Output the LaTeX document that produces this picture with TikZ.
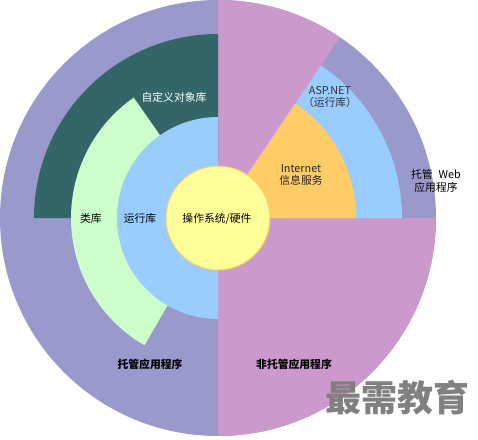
\documentclass[tikz,border=0pt]{standalone}
\usepackage{fontspec}
\newfontfamily\cjk{Noto Sans CJK SC}
\definecolor{lavender}{HTML}{9999CC}
\definecolor{orchid}{HTML}{CC99CC}
\definecolor{darkteal}{HTML}{336666}
\definecolor{palegreen}{HTML}{CCFFCC}
\definecolor{skyblue}{HTML}{99CCFF}
\definecolor{apricot}{HTML}{FFCC66}
\definecolor{paleyellow}{HTML}{FFFF99}
\tikzset{boldlabel/.style={font=\cjk\bfseries\fontsize{10.8}{12}\selectfont}}

\begin{document}
\begin{tikzpicture}[x=1pt,y=1pt,font=\cjk\fontsize{10.8}{12.5}\selectfont]
\useasboundingbox (-218,-221) rectangle (260,218);
\fill[lavender] (0,0) circle (218);
\fill[orchid] (0,0) -- (-90:218) arc[start angle=-90,end angle=0,radius=218] -- cycle;
\fill[orchid] (0,0) -- (56:218) arc[start angle=56,end angle=90,radius=218] -- cycle;
\fill[darkteal] (0,0) -- (90:184) arc[start angle=90,end angle=180,radius=184] -- cycle;
\fill[palegreen] (0,0) -- (125:147) arc[start angle=125,end angle=240,radius=147] -- cycle;
\fill[skyblue] (0,0) -- (90:101) arc[start angle=90,end angle=270,radius=101] -- cycle;
\fill[skyblue] (0,0) -- (0:184) arc[start angle=0,end angle=56,radius=184] -- cycle;
\fill[apricot] (0,0) -- (0:138) arc[start angle=0,end angle=56,radius=138] -- cycle;
\draw[apricot,fill=paleyellow,line width=1pt] (0,0) circle (52);

\node (objlib) at (-44,121) [text=white] {自定义对象库};
\node (classlib) at (-127,0) {类库};
\node (runtime) at (-78,0) {运行库};
\node (os) at (-1,-1) {操作系统/硬件};
\node (aspnet) at (112,121) [align=center,text=black!80] {ASP.NET\\（运行库）};
\node (iis) at (83,43) [align=center,text=black!85] {Internet\\信息服务};
\node (webapp) at (218,37) [align=center] {托管\hspace{6pt}Web\\应用程序};
\node (managed) at (-68,-146) [boldlabel] {托管应用程序};
\node (unmanaged) at (76,-146) [boldlabel] {非托管应用程序};
\node (mark) at (179,-180) [text=black!50,font=\cjk\bfseries\fontsize{36}{40}\selectfont] {最需教育};
\end{tikzpicture}
\end{document}
